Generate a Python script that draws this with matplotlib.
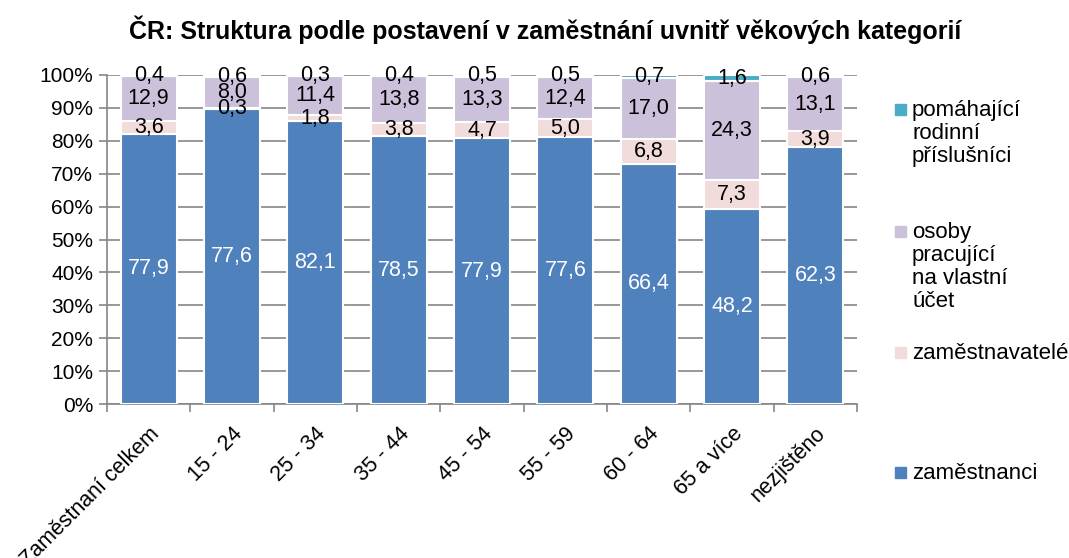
"""ČR: struktura podle postavení v zaměstnání uvnitř věkových kategorií."""
import matplotlib
matplotlib.use("Agg")
import matplotlib.pyplot as plt
import numpy as np
from matplotlib.patches import Rectangle
from matplotlib.ticker import PercentFormatter

plt.rcParams["font.family"] = ["Liberation Sans", "DejaVu Sans"]

categories = ["Zaměstnaní celkem", "15 - 24", "25 - 34", "35 - 44", "45 - 54",
              "55 - 59", "60 - 64", "65 a více", "nezjištěno"]
zamestnanci = [77.9, 77.6, 82.1, 78.5, 77.9, 77.6, 66.4, 48.2, 62.3]
zamestnavatele = [3.6, 0.3, 1.8, 3.8, 4.7, 5.0, 6.8, 7.3, 3.9]
vlastni_ucet = [12.9, 8.0, 11.4, 13.8, 13.3, 12.4, 17.0, 24.3, 13.1]
pomahajici = [0.4, 0.6, 0.3, 0.4, 0.5, 0.5, 0.7, 1.6, 0.6]

series = [
    ("zaměstnanci", zamestnanci, "#4F81BD", "white"),
    ("zaměstnavatelé", zamestnavatele, "#F2DCDB", "black"),
    ("osoby\npracující\nna vlastní\núčet", vlastni_ucet, "#CCC1DA", "black"),
    ("pomáhající\nrodinní\npříslušníci", pomahajici, "#4BACC6", "black"),
]

fig = plt.figure(figsize=(10.69, 5.58), dpi=100)
ax = fig.add_axes([107 / 1069, 1 - 404 / 558, 750 / 1069, 329 / 558])

x = np.arange(len(categories))
totals = np.sum([s[1] for s in series], axis=0)
bottom = np.zeros(len(categories))
for name, vals, color, tcolor in series:
    share = np.array(vals) / totals * 100
    ax.bar(x, share, bottom=bottom, width=0.67, color=color,
           edgecolor="white", linewidth=1.5, zorder=3)
    for xi, b, h, v in zip(x, bottom, share, vals):
        ax.text(xi, b + h / 2, f"{v:.1f}".replace(".", ","), ha="center",
                va="center", fontsize=15.5, color=tcolor, zorder=4)
    bottom += share

ax.set_xlim(-0.5, len(categories) - 0.5)
ax.set_ylim(0, 100)
ax.set_yticks(np.arange(0, 101, 10))
ax.yaxis.set_major_formatter(PercentFormatter(decimals=0))
ax.grid(axis="y", color="#868686", linewidth=1.2, zorder=0)
ax.set_xticks(np.arange(len(categories) + 1) - 0.5, minor=False)
ax.set_xticklabels([])
ax.set_xticks(x, minor=True)
ax.set_xticklabels(categories, minor=True, rotation=45, ha="right",
                   rotation_mode="anchor", fontsize=15.5)
ax.tick_params(axis="x", which="minor", length=0, pad=14)
ax.tick_params(axis="x", which="major", length=6, color="#868686", width=1.2)
ax.tick_params(axis="y", length=6, color="#868686", width=1.2, labelsize=15, pad=4)
for side in ["top", "right"]:
    ax.spines[side].set_visible(False)
for side in ["left", "bottom"]:
    ax.spines[side].set_color("#868686")
    ax.spines[side].set_linewidth(1.2)

fig.suptitle("ČR: Struktura podle postavení v zaměstnání uvnitř věkových kategorií",
             x=545 / 1069, y=1 - 30 / 558, va="center", fontsize=18, fontweight="bold")

# legend laid out by hand like the original
legend_y = [110, 232, 353, 473]
for (name, vals, color, tcolor), ly in zip(series[::-1], legend_y):
    fig.add_artist(Rectangle((895 / 1069, 1 - (ly + 5) / 558), 11 / 1069, 11 / 558,
                             transform=fig.transFigure, color=color))
    fig.text(912 / 1069, 1 - (ly - 10) / 558, name, va="top", ha="left",
             fontsize=16, linespacing=1.13)

fig.savefig("out.png", dpi=100)
